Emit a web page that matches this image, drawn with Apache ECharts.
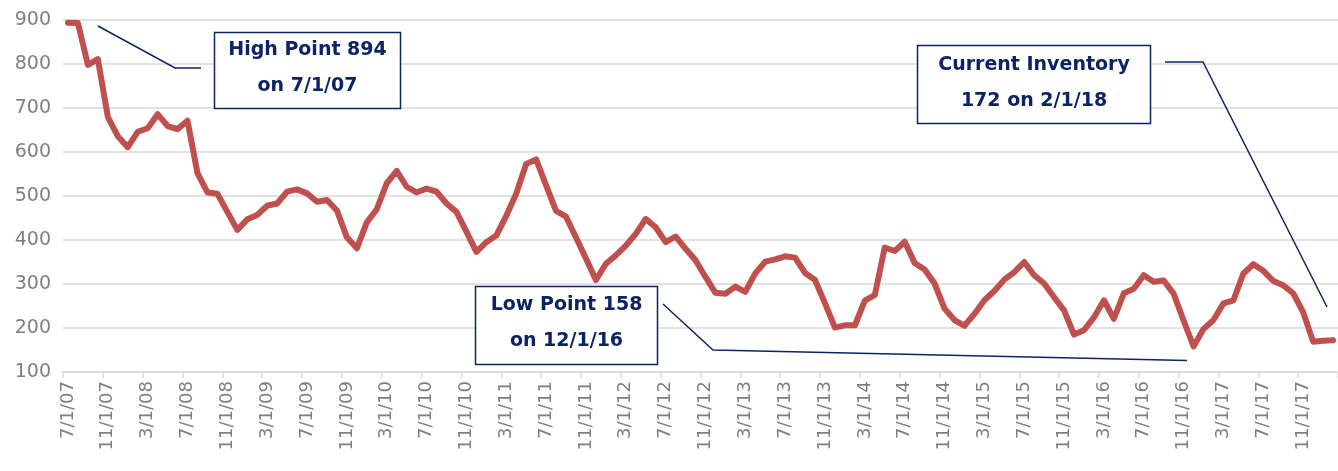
<!DOCTYPE html>
<html>
<head>
<meta charset="utf-8">
<script src="https://cdn.jsdelivr.net/npm/echarts@6/dist/echarts.min.js"></script>
<style>
html,body{margin:0;padding:0;background:#fff;}
#chart{width:1338px;height:471px;}
</style>
</head>
<body>
<div id="chart"></div>
<script>
// Monthly categories, 7/1/07 .. 2/1/18
const categories = [
  '7/1/07','8/1/07','9/1/07','10/1/07','11/1/07','12/1/07',
  '1/1/08','2/1/08','3/1/08','4/1/08','5/1/08','6/1/08','7/1/08','8/1/08','9/1/08','10/1/08','11/1/08','12/1/08',
  '1/1/09','2/1/09','3/1/09','4/1/09','5/1/09','6/1/09','7/1/09','8/1/09','9/1/09','10/1/09','11/1/09','12/1/09',
  '1/1/10','2/1/10','3/1/10','4/1/10','5/1/10','6/1/10','7/1/10','8/1/10','9/1/10','10/1/10','11/1/10','12/1/10',
  '1/1/11','2/1/11','3/1/11','4/1/11','5/1/11','6/1/11','7/1/11','8/1/11','9/1/11','10/1/11','11/1/11','12/1/11',
  '1/1/12','2/1/12','3/1/12','4/1/12','5/1/12','6/1/12','7/1/12','8/1/12','9/1/12','10/1/12','11/1/12','12/1/12',
  '1/1/13','2/1/13','3/1/13','4/1/13','5/1/13','6/1/13','7/1/13','8/1/13','9/1/13','10/1/13','11/1/13','12/1/13',
  '1/1/14','2/1/14','3/1/14','4/1/14','5/1/14','6/1/14','7/1/14','8/1/14','9/1/14','10/1/14','11/1/14','12/1/14',
  '1/1/15','2/1/15','3/1/15','4/1/15','5/1/15','6/1/15','7/1/15','8/1/15','9/1/15','10/1/15','11/1/15','12/1/15',
  '1/1/16','2/1/16','3/1/16','4/1/16','5/1/16','6/1/16','7/1/16','8/1/16','9/1/16','10/1/16','11/1/16','12/1/16',
  '1/1/17','2/1/17','3/1/17','4/1/17','5/1/17','6/1/17','7/1/17','8/1/17','9/1/17','10/1/17','11/1/17','12/1/17',
  '1/1/18','2/1/18'
];

// Inventory values
const inventory = [
  894,893,798,811,680,636,
  611,646,654,686,659,652,671,552,508,505,464,423,
  447,457,478,483,510,515,506,487,491,467,406,381,
  440,470,529,557,521,508,517,510,483,464,419,373,
  395,410,455,505,573,583,524,466,453,406,358,309,
  346,365,387,414,448,429,395,408,380,354,316,280,
  278,294,282,324,351,356,363,360,325,309,256,201,
  206,206,262,275,383,375,396,348,333,301,244,218,
  205,232,263,284,310,327,350,320,301,270,240,185,
  195,224,263,221,279,289,320,305,308,278,217,158,
  198,218,256,263,324,345,330,307,297,279,236,169,
  171,172
];

const yTicks = { min: 100, max: 900, interval: 100 };

const notes = [
  { text: 'High Point 894\non 7/1/07' },
  { text: 'Current Inventory\n172 on 2/1/18' },
  { text: 'Low Point 158\non 12/1/16' }
];

const NAVY = '#0c2463';
const FONT = '"DejaVu Sans", sans-serif';

const chart = echarts.init(document.getElementById('chart'), null, { renderer: 'canvas' });

function box(x, y, w, h, txt, ty) {
  return [
    { type: 'rect', z: 100, shape: { x: x, y: y, width: w, height: h },
      style: { fill: '#fff', stroke: NAVY, lineWidth: 1.5 } },
    { type: 'text', z: 101, x: x + w / 2, y: ty,
      style: { text: txt, fill: NAVY, fontFamily: FONT, fontWeight: 'bold', fontSize: 19,
               lineHeight: 36, align: 'center', verticalAlign: 'middle' } }
  ];
}
function callout(pts) {
  return { type: 'polyline', z: 99, shape: { points: pts },
           style: { stroke: NAVY, lineWidth: 1.5, fill: null } };
}

const graphics = [].concat(
  [callout([[98, 26], [175, 68], [201, 68]])],
  box(214.5, 32.5, 186, 76, notes[0].text, 68),
  [callout([[1165, 62], [1203, 62], [1327, 307]])],
  box(917.5, 45.5, 233, 78, notes[1].text, 83),
  [callout([[663, 304], [713, 350], [1187, 360.5]])],
  box(475.5, 286.5, 182, 78, notes[2].text, 323)
);

chart.setOption({
  animation: false,
  backgroundColor: '#fff',
  grid: { left: 63, top: 20, width: 1284, height: 352, containLabel: false },
  xAxis: {
    type: 'category',
    data: categories,
    boundaryGap: true,
    axisLine: { lineStyle: { color: '#d9d9d9', width: 1.5 } },
    axisTick: { show: true, interval: 3, length: 6, lineStyle: { color: '#d9d9d9', width: 1.5 } },
    axisLabel: { interval: 3, rotate: 90, margin: 9, color: '#7f7f7f', fontFamily: FONT, fontSize: 18 },
    splitLine: { show: false }
  },
  yAxis: {
    type: 'value',
    min: yTicks.min, max: yTicks.max, interval: yTicks.interval,
    axisLine: { show: false },
    axisTick: { show: false },
    axisLabel: { color: '#7f7f7f', fontFamily: FONT, fontSize: 19, margin: 12 },
    splitLine: { lineStyle: { color: '#d9d9d9', width: 1.5 } }
  },
  series: [{
    type: 'line',
    data: inventory,
    symbol: 'none',
    smooth: false,
    clip: false,
    lineStyle: { color: '#c0504d', width: 6, cap: 'round', join: 'round' },
    itemStyle: { color: '#c0504d' },
    z: 5
  }],
  graphic: graphics
});
</script>
</body>
</html>
